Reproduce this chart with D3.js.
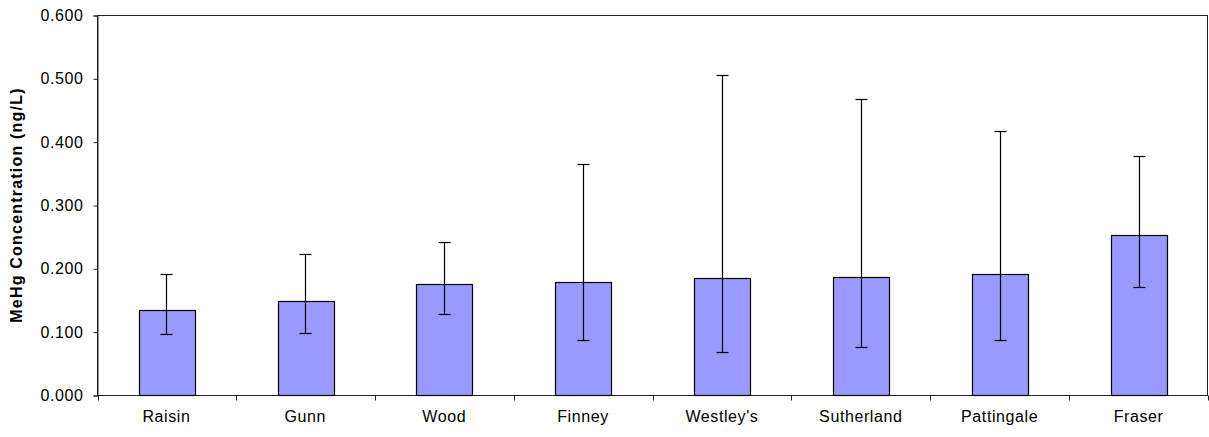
<!DOCTYPE html>
<html>
<head>
<meta charset="utf-8">
<script src="https://cdn.jsdelivr.net/npm/d3@7"></script>
<style>
  html, body { margin: 0; padding: 0; background: #fff; }
  svg { display: block; }
  text { font-family: "Liberation Sans", Arial, sans-serif; fill: #000; }
</style>
</head>
<body>
<svg id="chart" width="1209" height="437"></svg>
<script>
// Mean MeHg concentration per site, with the upper and lower error bar ends
const sites = ["Raisin", "Gunn", "Wood", "Finney", "Westley's", "Sutherland", "Pattingale", "Fraser"];
const meanValues = [0.134, 0.148, 0.176, 0.178, 0.185, 0.187, 0.191, 0.252];
const errorHigh = [0.191, 0.223, 0.242, 0.365, 0.506, 0.467, 0.417, 0.378];
const errorLow = [0.096, 0.098, 0.128, 0.087, 0.068, 0.076, 0.087, 0.171];
const yTicks = [0, 0.1, 0.2, 0.3, 0.4, 0.5, 0.6];

const svg = d3.select("#chart");
const plot = { left: 97, right: 1208, top: 15, bottom: 395 };
const labelSize = 16;
const labelSpacing = 0.6;

const x = d3.scaleBand()
  .domain(sites)
  .range([plot.left, plot.right])
  .paddingInner(0.6)
  .paddingOuter(0.3);

const y = d3.scaleLinear()
  .domain([0, 0.6])
  .range([plot.bottom, plot.top]);

const lineColor = "#222";

// Plot frame
svg.append("rect")
  .attr("x", plot.left + 0.5)
  .attr("y", plot.top + 0.5)
  .attr("width", plot.right - plot.left - 1)
  .attr("height", plot.bottom - plot.top)
  .attr("fill", "none")
  .attr("stroke", lineColor)
  .attr("stroke-width", 1);

// Y axis
const yAxis = d3.axisLeft(y)
  .tickValues(yTicks)
  .tickFormat(d3.format(".3f"))
  .tickSize(4)
  .tickPadding(10);

svg.append("g")
  .attr("transform", `translate(${plot.left + 0.5},0.5)`)
  .call(yAxis)
  .call(g => g.select(".domain").attr("stroke", lineColor))
  .call(g => g.selectAll(".tick line").attr("stroke", lineColor))
  .call(g => g.selectAll("text")
    .attr("font-size", labelSize)
    .attr("letter-spacing", labelSpacing)
    .attr("font-family", "'Liberation Sans', Arial, sans-serif")
    .attr("fill", "#000"));

// X axis: ticks sit between categories
const xAxisG = svg.append("g")
  .attr("transform", `translate(0,${plot.bottom + 0.5})`);

xAxisG.append("line")
  .attr("x1", plot.left).attr("x2", plot.right)
  .attr("stroke", lineColor);

const boundaries = sites.map(s => x(s) - x.step() * x.paddingInner() / 2)
  .concat([plot.right - 0.5]);
boundaries[0] = plot.left + 0.5;

xAxisG.selectAll("line.tick")
  .data(boundaries)
  .join("line")
  .attr("class", "tick")
  .attr("x1", d => Math.round(d) + 0.5)
  .attr("x2", d => Math.round(d) + 0.5)
  .attr("y1", 0).attr("y2", 5)
  .attr("stroke", lineColor);

xAxisG.selectAll("text")
  .data(sites)
  .join("text")
  .attr("x", d => x(d) + x.bandwidth() / 2)
  .attr("y", 26)
  .attr("text-anchor", "middle")
  .attr("font-size", labelSize)
  .attr("letter-spacing", labelSpacing)
  .text(d => d);

// Bars
svg.append("g")
  .selectAll("rect")
  .data(sites)
  .join("rect")
  .attr("x", d => Math.round(x(d)) + 0.5)
  .attr("y", (d, i) => Math.round(y(meanValues[i])) + 0.5)
  .attr("width", Math.round(x.bandwidth()))
  .attr("height", (d, i) => plot.bottom - Math.round(y(meanValues[i])))
  .attr("fill", "#9999FF")
  .attr("stroke", "#000")
  .attr("stroke-width", 1.2);

// Error bars
const errG = svg.append("g")
  .attr("stroke", "#000")
  .attr("stroke-width", 1.2);

const cap = 6;
sites.forEach((s, i) => {
  const cx = Math.round(x(s) + x.bandwidth() / 2) + 0.5;
  const yHi = Math.round(y(errorHigh[i])) + 0.5;
  const yLo = Math.round(y(errorLow[i])) + 0.5;
  errG.append("line").attr("x1", cx).attr("x2", cx).attr("y1", yHi).attr("y2", yLo);
  errG.append("line").attr("x1", cx - cap).attr("x2", cx + cap).attr("y1", yHi).attr("y2", yHi);
  errG.append("line").attr("x1", cx - cap).attr("x2", cx + cap).attr("y1", yLo).attr("y2", yLo);
});

// Y axis title
svg.append("text")
  .attr("transform", `translate(22,${(plot.top + plot.bottom) / 2}) rotate(-90)`)
  .attr("text-anchor", "middle")
  .attr("font-size", 16)
  .attr("letter-spacing", 1.2)
  .attr("font-weight", "bold")
  .text("MeHg Concentration (ng/L)");
</script>
</body>
</html>
